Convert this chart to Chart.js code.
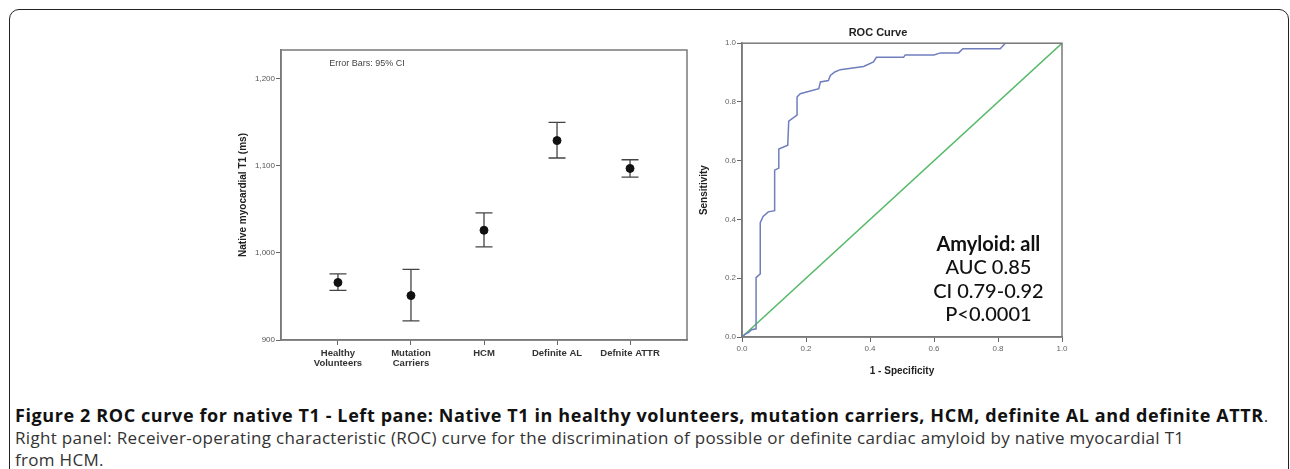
<!DOCTYPE html>
<html>
<head>
<meta charset="utf-8">
<script src="https://cdn.jsdelivr.net/npm/chart.js@4"></script>
<style>
    html, body { margin: 0; padding: 0; background: #fff; }
    body { width: 1290px; height: 469px; position: relative; overflow: hidden; }
    #frame {
        position: absolute; left: 9px; top: 9px; width: 1280px; height: 520px;
        border: 1.5px solid #222; border-radius: 10px; box-sizing: border-box;
    }
    #leftWrap { position: absolute; left: 200px; top: 30px; }
    #rightWrap { position: absolute; left: 694px; top: 10px; }
    #caption {
        position: absolute; left: 15px; top: 404px; width: 1275px;
        font-family: "Open Sans", "Noto Sans", sans-serif; font-size: 17px; line-height: 22px;
        letter-spacing: 0.3px; color: #333; white-space: nowrap;
    }
    #caption b { color: #111; font-size: 18px; letter-spacing: 0.6px; }
</style>
</head>
<body>
<div id="frame"></div>
<div id="leftWrap"><canvas id="t1Chart" width="500" height="360"></canvas></div>
<div id="rightWrap"><canvas id="rocChart" width="381" height="380"></canvas></div>
<div id="caption">
    <b>Figure 2 ROC curve for native T1 - Left pane: Native T1 in healthy volunteers, mutation carriers, HCM, definite AL and definite ATTR</b>.<br>
    Right panel: Receiver-operating characteristic (ROC) curve for the discrimination of possible or definite cardiac amyloid by native myocardial T1<br>
    from HCM.
</div>
<script>
// left panel: mean native T1 with 95% CI per group
var groupLabels = [['Healthy', 'Volunteers'], ['Mutation', 'Carriers'], 'HCM', 'Definite AL', 'Defnite ATTR'];
var groupPos = [1, 2, 3, 4, 5];
var t1Mean = [966, 951, 1026, 1129, 1097];
var t1Lower = [957, 922, 1007, 1109, 1087];
var t1Upper = [976, 981, 1046, 1150, 1107];
var t1Ticks = [900, 1000, 1100, 1200];

// right panel: ROC curve corners
var rocFpr = [0, 0.01, 0.02, 0.03, 0.044, 0.044, 0.057, 0.057, 0.066, 0.082, 0.102, 0.102, 0.115, 0.115,
    0.143, 0.146, 0.172, 0.172, 0.182, 0.24, 0.245, 0.27, 0.276, 0.29, 0.307, 0.38, 0.411, 0.42, 0.505,
    0.51, 0.6, 0.62, 0.677, 0.69, 0.807, 0.823, 1];
var rocTpr = [0, 0.01, 0.015, 0.025, 0.028, 0.202, 0.215, 0.389, 0.41, 0.426, 0.43, 0.568, 0.575, 0.64,
    0.653, 0.735, 0.755, 0.817, 0.828, 0.845, 0.868, 0.873, 0.89, 0.902, 0.91, 0.921, 0.936, 0.952, 0.952,
    0.96, 0.96, 0.967, 0.967, 0.981, 0.981, 1, 1];
var refLine = [0, 1];
var rocTicks = [0, 0.2, 0.4, 0.6, 0.8, 1];
var rocNotes = ['Amyloid: all', 'AUC 0.85', 'CI 0.79-0.92', 'P<0.0001'];
var noteY = [0.313, 0.235, 0.154, 0.076];

var axisFont = 'Liberation Sans, Arial, sans-serif';

var boxPlugin = {
    id: 'box',
    afterDraw: function(chart) {
        var a = chart.chartArea, ctx = chart.ctx;
        ctx.save();
        ctx.strokeStyle = '#7a7a7a';
        ctx.lineWidth = 1.5;
        ctx.strokeRect(a.left, a.top, a.right - a.left, a.bottom - a.top);
        ctx.restore();
    }
};

var errorBarPlugin = {
    id: 'errorBars',
    beforeDatasetsDraw: function(chart) {
        var xs = chart.scales.x, ys = chart.scales.y, ctx = chart.ctx;
        ctx.save();
        ctx.strokeStyle = '#444';
        ctx.lineWidth = 1.3;
        for (var i = 0; i < groupPos.length; i++) {
            var x = xs.getPixelForValue(groupPos[i]);
            var lo = ys.getPixelForValue(t1Lower[i]);
            var hi = ys.getPixelForValue(t1Upper[i]);
            ctx.beginPath();
            ctx.moveTo(x, lo); ctx.lineTo(x, hi);
            ctx.moveTo(x - 8.5, lo); ctx.lineTo(x + 8.5, lo);
            ctx.moveTo(x - 8.5, hi); ctx.lineTo(x + 8.5, hi);
            ctx.stroke();
        }
        ctx.fillStyle = '#444';
        ctx.font = '9px ' + axisFont;
        ctx.textBaseline = 'middle';
        ctx.fillText('Error Bars: 95% CI', xs.getPixelForValue(0.88), ys.getPixelForValue(1218));
        ctx.restore();
    }
};

var notesPlugin = {
    id: 'notes',
    afterDatasetsDraw: function(chart) {
        var xs = chart.scales.x, ys = chart.scales.y, ctx = chart.ctx;
        ctx.save();
        ctx.fillStyle = '#111';
        ctx.textAlign = 'center';
        ctx.textBaseline = 'middle';
        for (var i = 0; i < rocNotes.length; i++) {
            ctx.font = (i === 0 ? 'bold ' : '500 ') + '20px Lato, "Open Sans", sans-serif';
            ctx.fillText(rocNotes[i], xs.getPixelForValue(0.77), ys.getPixelForValue(noteY[i]));
        }
        ctx.restore();
    }
};

function axisGrid() {
    return { drawOnChartArea: false, drawTicks: true, tickLength: 5, color: '#666', lineWidth: 1 };
}

new Chart(document.getElementById('t1Chart').getContext('2d'), {
    type: 'scatter',
    data: {
        datasets: [{
            data: groupPos.map(function(p, i) { return {x: p, y: t1Mean[i]}; }),
            backgroundColor: '#111',
            borderColor: '#111',
            pointRadius: 4
        }]
    },
    options: {
        responsive: false,
        animation: false,
        layout: { padding: { left: 33, right: 13, top: 20, bottom: 10 } },
        plugins: { legend: { display: false }, tooltip: { enabled: false } },
        scales: {
            x: {
                type: 'linear', min: 0.22, max: 5.78,
                afterBuildTicks: function(scale) {
                    scale.ticks = groupPos.map(function(v) { return {value: v}; });
                },
                afterFit: function(scale) { scale.height = 40; },
                ticks: {
                    autoSkip: false, maxRotation: 0, color: '#333', padding: 3,
                    font: { family: axisFont, size: 9.5, weight: 'bold', lineHeight: 1.1 },
                    callback: function(v) { return groupLabels[v - 1]; }
                },
                grid: axisGrid(),
                border: { color: '#7a7a7a', width: 1.5 }
            },
            y: {
                min: 900, max: 1233,
                afterBuildTicks: function(scale) {
                    scale.ticks = t1Ticks.map(function(v) { return {value: v}; });
                },
                afterFit: function(scale) { scale.width = 48; },
                ticks: {
                    color: '#555', padding: 1,
                    font: { family: axisFont, size: 8 },
                    callback: function(v) { return v.toLocaleString('en-US'); }
                },
                title: {
                    display: true, text: 'Native myocardial T1 (ms)', color: '#222',
                    font: { family: axisFont, size: 10, weight: 'bold' }
                },
                grid: axisGrid(),
                border: { color: '#7a7a7a', width: 1.5 }
            }
        }
    },
    plugins: [errorBarPlugin, boxPlugin]
});

new Chart(document.getElementById('rocChart').getContext('2d'), {
    type: 'scatter',
    data: {
        datasets: [{
            data: rocFpr.map(function(f, i) { return {x: f, y: rocTpr[i]}; }),
            showLine: true,
            borderColor: 'rgb(112,126,190)',
            borderWidth: 1.5,
            pointRadius: 0,
            tension: 0
        }, {
            data: refLine.map(function(v) { return {x: v, y: v}; }),
            showLine: true,
            borderColor: 'rgb(86,186,104)',
            borderWidth: 1.5,
            pointRadius: 0
        }]
    },
    options: {
        responsive: false,
        animation: false,
        layout: { padding: { left: 0, right: 13, top: 12, bottom: 13 } },
        plugins: {
            legend: { display: false },
            tooltip: { enabled: false },
            title: {
                display: true, text: 'ROC Curve', color: '#222',
                font: { family: axisFont, size: 11, weight: 'bold' },
                padding: { top: 4, bottom: 4 }
            }
        },
        scales: {
            x: {
                min: 0, max: 1,
                afterBuildTicks: function(scale) {
                    scale.ticks = rocTicks.map(function(v) { return {value: v}; });
                },
                afterFit: function(scale) { scale.height = 40; },
                ticks: {
                    color: '#666', padding: 2,
                    font: { family: axisFont, size: 8 },
                    callback: function(v) { return v.toFixed(1); }
                },
                title: {
                    display: true, text: '1 - Specificity', color: '#222',
                    font: { family: axisFont, size: 10, weight: 'bold' },
                    padding: { top: 1, bottom: 0 }
                },
                grid: axisGrid(),
                border: { color: '#7a7a7a', width: 1.5 }
            },
            y: {
                min: 0, max: 1,
                afterBuildTicks: function(scale) {
                    scale.ticks = rocTicks.map(function(v) { return {value: v}; });
                },
                afterFit: function(scale) { scale.width = 48; },
                ticks: {
                    color: '#666', padding: 1,
                    font: { family: axisFont, size: 8 },
                    callback: function(v) { return v.toFixed(1); }
                },
                title: {
                    display: true, text: 'Sensitivity', color: '#222',
                    font: { family: axisFont, size: 10, weight: 'bold' }
                },
                grid: axisGrid(),
                border: { color: '#7a7a7a', width: 1.5 }
            }
        }
    },
    plugins: [notesPlugin, boxPlugin]
});
</script>
</body>
</html>
